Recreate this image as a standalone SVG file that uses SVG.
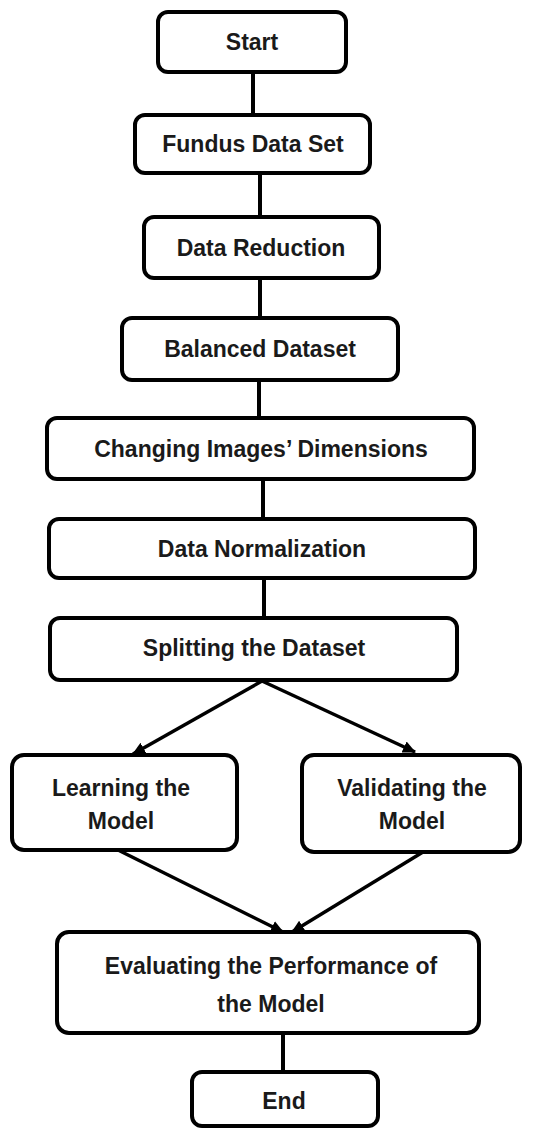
<svg xmlns="http://www.w3.org/2000/svg" width="547" height="1129" viewBox="0 0 547 1129">
<style>
.box{fill:#fff;stroke:#000;stroke-width:4}
.lbl{font-family:"Liberation Sans",Arial,sans-serif;font-weight:bold;font-size:23px;fill:#1a1a1a;text-anchor:middle}
.conn{stroke:#000;stroke-width:4;fill:none}
.arr{stroke:#000;stroke-width:3.5;fill:none;marker-end:url(#ah)}
</style>
<defs>
<marker id="ah" markerUnits="userSpaceOnUse" markerWidth="14" markerHeight="14" viewBox="0 0 14 14" refX="12" refY="7" orient="auto">
<path d="M0,1 L13,7 L0,13 Z" fill="#000"/>
</marker>
</defs>
<rect width="547" height="1129" fill="#fff"/>
<g id="connectors">
<line class="conn" x1="253" y1="72" x2="253" y2="115"/>
<line class="conn" x1="260" y1="173" x2="260" y2="217"/>
<line class="conn" x1="260" y1="278" x2="260" y2="318"/>
<line class="conn" x1="259" y1="380" x2="259" y2="418"/>
<line class="conn" x1="263" y1="479" x2="263" y2="519"/>
<line class="conn" x1="264" y1="578" x2="264" y2="618"/>
<line class="arr" x1="262" y1="681" x2="133" y2="754"/>
<line class="arr" x1="262" y1="681" x2="415" y2="752"/>
<line class="arr" x1="118" y1="850" x2="283" y2="932"/>
<line class="arr" x1="423" y1="852" x2="292" y2="932"/>
<line class="conn" x1="283" y1="1033" x2="283" y2="1072"/>
</g>
<g id="start"><rect class="box" x="158" y="12" width="188" height="60" rx="10"/><text class="lbl" x="252" y="50">Start</text></g>
<g id="fundus"><rect class="box" x="135" y="115" width="235" height="58" rx="10"/><text class="lbl" x="253" y="152">Fundus Data Set</text></g>
<g id="reduction"><rect class="box" x="144" y="217" width="235" height="61" rx="10"/><text class="lbl" x="261" y="256">Data Reduction</text></g>
<g id="balanced"><rect class="box" x="122" y="318" width="276" height="62" rx="10"/><text class="lbl" x="260" y="357">Balanced Dataset</text></g>
<g id="changing"><rect class="box" x="47" y="418" width="427" height="61" rx="10"/><text class="lbl" x="261" y="457">Changing Images’ Dimensions</text></g>
<g id="normalization"><rect class="box" x="49" y="519" width="426" height="59" rx="10"/><text class="lbl" x="262" y="557">Data Normalization</text></g>
<g id="splitting"><rect class="box" x="50" y="618" width="407" height="62" rx="10"/><text class="lbl" x="254" y="656">Splitting the Dataset</text></g>
<g id="learning"><rect class="box" x="12" y="755" width="225" height="95" rx="12"/><text class="lbl" x="121" y="796">Learning the</text><text class="lbl" x="121" y="829">Model</text></g>
<g id="validating"><rect class="box" x="302" y="755" width="218" height="97" rx="12"/><text class="lbl" x="412" y="796">Validating the</text><text class="lbl" x="412" y="829">Model</text></g>
<g id="evaluating"><rect class="box" x="57" y="932" width="422" height="101" rx="12"/><text class="lbl" x="271" y="974">Evaluating the Performance of</text><text class="lbl" x="271" y="1012">the Model</text></g>
<g id="end"><rect class="box" x="192" y="1072" width="186" height="54" rx="10"/><text class="lbl" x="284" y="1109">End</text></g>
</svg>
